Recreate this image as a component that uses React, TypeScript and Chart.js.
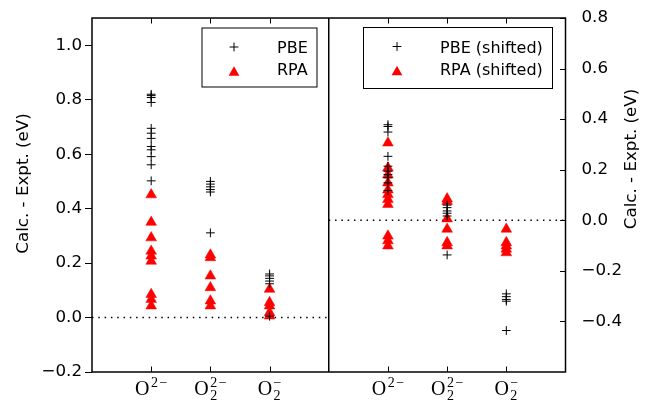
import React, { useEffect, useRef } from 'react';
import { Chart, registerables } from 'chart.js';

Chart.register(...registerables);

// Category labels (mathtext-like: base, subscript, superscript)
const catBase = ['O', 'O', 'O'];
const catSub = ['', '2', '2'];
const catSup = ['2\u2212', '2\u2212', '\u2212'];

// Left panel: Calc. - Expt. (eV)
const pbeO2m = [0.82, 0.815, 0.808, 0.79, 0.695, 0.677, 0.658, 0.628, 0.616, 0.591, 0.561, 0.502];
const rpaO2m = [0.451, 0.35, 0.293, 0.244, 0.226, 0.207, 0.085, 0.067, 0.043];
const pbeO22m = [0.5, 0.49, 0.48, 0.47, 0.461, 0.311];
const rpaO22m = [0.23, 0.22, 0.153, 0.11, 0.061, 0.043];
const pbeO2 = [0.16, 0.153, 0.144, 0.134, 0.124, 0.005];
const rpaO2 = [0.104, 0.055, 0.043, 0.018, 0.006];

// Right panel: shifted values (eV)
const pbeShO2m = [0.378, 0.371, 0.349, 0.253, 0.214, 0.194, 0.181, 0.168, 0.148, 0.118];
const rpaShO2m = [0.306, 0.207, 0.18, 0.148, 0.12, 0.102, 0.083, 0.063, -0.062, -0.081, -0.101];
const pbeShO22m = [0.06, 0.05, 0.037, 0.028, 0.017, -0.137];
const rpaShO22m = [0.085, 0.075, 0.006, -0.035, -0.088, -0.101];
const pbeShO2 = [-0.291, -0.302, -0.313, -0.32, -0.436];
const rpaShO2 = [-0.035, -0.088, -0.101, -0.114, -0.128];

const leftTicks = [-0.2, 0.0, 0.2, 0.4, 0.6, 0.8, 1.0];
const rightTicks = [-0.4, -0.2, 0.0, 0.2, 0.4, 0.6, 0.8];

const pbeLeft = [pbeO2m, pbeO22m, pbeO2];
const rpaLeft = [rpaO2m, rpaO22m, rpaO2];
const pbeRight = [pbeShO2m, pbeShO22m, pbeShO2];
const rpaRight = [rpaShO2m, rpaShO22m, rpaShO2];

const toPoints = (groups: number[][], offset: number) =>
  groups.flatMap((vals, i) => vals.map((v) => ({ x: i + offset, y: v })));

const fmt = (v: number) => {
  const r = Math.round(v * 10) / 10;
  const s = (Math.abs(r) < 1e-9 ? 0 : r).toFixed(1);
  return s.replace('-', '\u2212');
};

const FONT = '"DejaVu Sans", sans-serif';
const MATHFONT = '"Liberation Serif", serif';

function drawMath(ctx: CanvasRenderingContext2D, cx: number, baseline: number, base: string, sub: string, sup: string) {
  const fs = 20;
  const ss = 14;
  ctx.font = `${fs}px ${MATHFONT}`;
  const wb = ctx.measureText(base).width;
  ctx.font = `${ss}px ${MATHFONT}`;
  const supChars = sup.split('');
  const supW = supChars.reduce((acc, c) => acc + ctx.measureText(c).width, 0) + (supChars.length - 1) * 1.5;
  const wsub = sub ? ctx.measureText(sub).width : 0;
  const total = wb + 1.5 + Math.max(wsub, supW);
  const x0 = cx - total / 2;
  ctx.textAlign = 'left';
  ctx.textBaseline = 'alphabetic';
  ctx.fillStyle = '#000';
  ctx.font = `${fs}px ${MATHFONT}`;
  ctx.fillText(base, x0, baseline);
  ctx.font = `${ss}px ${MATHFONT}`;
  let sx = x0 + wb + 1.5;
  supChars.forEach((c) => {
    ctx.fillText(c, sx, baseline - fs * 0.42);
    sx += ctx.measureText(c).width + 1.5;
  });
  if (sub) ctx.fillText(sub, x0 + wb + 1.5, baseline + fs * 0.24);
}

function drawPlus(ctx: CanvasRenderingContext2D, x: number, y: number, r: number) {
  ctx.beginPath();
  ctx.moveTo(x - r, y);
  ctx.lineTo(x + r, y);
  ctx.moveTo(x, y - r);
  ctx.lineTo(x, y + r);
  ctx.strokeStyle = '#000';
  ctx.lineWidth = 1;
  ctx.stroke();
}

function drawTri(ctx: CanvasRenderingContext2D, x: number, y: number, r: number) {
  ctx.beginPath();
  for (let k = 0; k < 3; k++) {
    const a = (k * 2 * Math.PI) / 3;
    const px = x + Math.sin(a) * r;
    const py = y - Math.cos(a) * r + r / 4;
    if (k === 0) ctx.moveTo(px, py);
    else ctx.lineTo(px, py);
  }
  ctx.closePath();
  ctx.fillStyle = '#ff0000';
  ctx.fill();
}

function drawLegend(ctx: CanvasRenderingContext2D, bx: number, by: number, bw: number, bh: number, mx: number, tx: number, labels: string[]) {
  ctx.fillStyle = '#fff';
  ctx.fillRect(bx, by, bw, bh);
  ctx.strokeStyle = '#000';
  ctx.lineWidth = 1;
  ctx.strokeRect(bx, by, bw, bh);
  drawPlus(ctx, mx, by + 19, 4.4);
  drawTri(ctx, mx, by + 43, 6.2);
  ctx.fillStyle = '#000';
  ctx.font = `16px ${FONT}`;
  ctx.textAlign = 'left';
  ctx.textBaseline = 'middle';
  ctx.fillText(labels[0], tx, by + 21);
  ctx.fillText(labels[1], tx, by + 43);
}

const framePlugin = {
  id: 'frame',
  afterDraw(chart: any) {
    const { ctx, chartArea: a, scales } = chart;
    const xs = scales.x;
    const y1 = scales.y1;
    ctx.save();
    // x ticks (inward, top and bottom)
    ctx.strokeStyle = '#000';
    ctx.lineWidth = 1;
    [1, 2, 3, 5, 6, 7].forEach((v) => {
      const px = Math.round(xs.getPixelForValue(v)) + 0.5;
      ctx.beginPath();
      ctx.moveTo(px, a.bottom);
      ctx.lineTo(px, a.bottom - 5.5);
      ctx.moveTo(px, a.top);
      ctx.lineTo(px, a.top + 5.5);
      ctx.stroke();
    });
    // right axis ticks (inward)
    rightTicks.forEach((v) => {
      const py = Math.round(y1.getPixelForValue(v)) + 0.5;
      ctx.beginPath();
      ctx.moveTo(a.right, py);
      ctx.lineTo(a.right - 5.5, py);
      ctx.stroke();
    });
    // frame + divider
    ctx.lineWidth = 1.5;
    ctx.strokeRect(a.left, a.top, a.right - a.left, a.bottom - a.top);
    const xd = xs.getPixelForValue(4);
    ctx.beginPath();
    ctx.moveTo(xd, a.top);
    ctx.lineTo(xd, a.bottom);
    ctx.stroke();
    // x labels
    for (let i = 0; i < 3; i++) {
      drawMath(ctx, xs.getPixelForValue(i + 1), 395, catBase[i], catSub[i], catSup[i]);
      drawMath(ctx, xs.getPixelForValue(i + 5), 395, catBase[i], catSub[i], catSup[i]);
    }
    // axis titles
    ctx.fillStyle = '#000';
    ctx.font = `16.7px ${FONT}`;
    ctx.textAlign = 'center';
    ctx.textBaseline = 'alphabetic';
    ctx.save();
    ctx.translate(28, 183.5);
    ctx.rotate(-Math.PI / 2);
    ctx.fillText('Calc. - Expt. (eV)', 0, 0);
    ctx.restore();
    ctx.save();
    ctx.translate(636, 159);
    ctx.rotate(-Math.PI / 2);
    ctx.fillText('Calc. - Expt. (eV)', 0, 0);
    ctx.restore();
    // legends
    drawLegend(ctx, 202, 28, 115, 59, 234, 277, ['PBE', 'RPA']);
    drawLegend(ctx, 363.5, 27.5, 189, 61, 397, 440, ['PBE (shifted)', 'RPA (shifted)']);
    ctx.restore();
  },
};

export default function App() {
  const ref = useRef<HTMLCanvasElement | null>(null);
  useEffect(() => {
    if (!ref.current) return;
    const plusStyle = {
      pointStyle: 'cross',
      pointRadius: 4.4,
      pointBorderWidth: 1,
      borderColor: '#000',
      backgroundColor: '#000',
      showLine: false,
    };
    const triStyle = {
      pointStyle: 'triangle',
      pointRadius: 6.2,
      pointBorderWidth: 0.5,
      borderColor: '#ff0000',
      backgroundColor: '#ff0000',
      showLine: false,
    };
    const chart = new Chart(ref.current, {
      type: 'scatter',
      data: {
        datasets: [
          { label: 'PBE', data: toPoints(pbeLeft, 1), yAxisID: 'y', ...plusStyle } as any,
          { label: 'PBE (shifted)', data: toPoints(pbeRight, 5), yAxisID: 'y1', ...plusStyle } as any,
          { label: 'RPA', data: toPoints(rpaLeft, 1), yAxisID: 'y', ...triStyle } as any,
          { label: 'RPA (shifted)', data: toPoints(rpaRight, 5), yAxisID: 'y1', ...triStyle } as any,
          {
            label: 'zero',
            data: [{ x: 0, y: 0 }, { x: 4, y: 0 }],
            yAxisID: 'y',
            showLine: true,
            borderColor: '#000',
            borderWidth: 1.5,
            borderDash: [1.5, 4.8],
            pointRadius: 0,
          } as any,
          {
            label: 'zero shifted',
            data: [{ x: 4, y: 0 }, { x: 8, y: 0 }],
            yAxisID: 'y1',
            showLine: true,
            borderColor: '#000',
            borderWidth: 1.5,
            borderDash: [1.5, 4.8],
            pointRadius: 0,
          } as any,
        ],
      },
      options: {
        animation: false,
        responsive: false,
        devicePixelRatio: 1,
        layout: { padding: { top: 16, left: 0, right: 0, bottom: 0 } },
        plugins: { legend: { display: false }, tooltip: { enabled: false } },
        scales: {
          x: {
            type: 'linear',
            min: 0,
            max: 8,
            display: true,
            ticks: { display: false },
            grid: { display: false },
            border: { display: false },
            afterFit: (s: any) => {
              s.height = 29;
            },
          },
          y: {
            type: 'linear',
            position: 'left',
            min: -0.2,
            max: 1.1,
            ticks: {
              stepSize: 0.2,
              padding: 3,
              color: '#000',
              font: { family: 'DejaVu Sans', size: 16.7 },
              callback: (v: any) => fmt(Number(v)),
            },
            grid: { display: true, drawOnChartArea: false, drawTicks: true, tickLength: 7, color: '#000', lineWidth: 1 },
            border: { display: false },
            afterBuildTicks: (s: any) => {
              s.ticks = leftTicks.map((v) => ({ value: v }));
            },
            afterFit: (s: any) => {
              s.width = 92;
            },
          },
          y1: {
            type: 'linear',
            position: 'right',
            min: -0.6,
            max: 0.8,
            ticks: {
              stepSize: 0.2,
              padding: 8,
              color: '#000',
              font: { family: 'DejaVu Sans', size: 16.7 },
              callback: (v: any) => fmt(Number(v)),
            },
            grid: { display: false },
            border: { display: false },
            afterBuildTicks: (s: any) => {
              s.ticks = rightTicks.map((v) => ({ value: v }));
            },
            afterFit: (s: any) => {
              s.width = 86.5;
            },
          },
        },
      } as any,
      plugins: [framePlugin],
    });
    return () => chart.destroy();
  }, []);
  return (
    <div style={{ position: 'fixed', left: 0, top: 0, width: 652, height: 401, background: '#fff' }}>
      <canvas ref={ref} width={652} height={401} style={{ display: 'block' }} />
    </div>
  );
}
